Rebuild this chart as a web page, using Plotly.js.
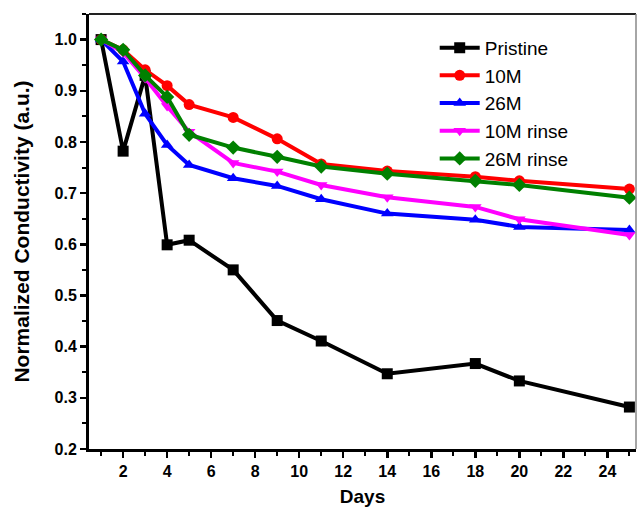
<!DOCTYPE html>
<html>
<head>
<meta charset="utf-8">
<script src="https://cdn.plot.ly/plotly-3.0.1.min.js"></script>
<style>html,body{margin:0;padding:0;background:#fff;}#chart{width:640px;height:507px;}</style>
</head>
<body>
<div id="chart"></div>
<script>
const days = [1, 2, 3, 4, 5, 7, 9, 11, 14, 18, 20, 25];
const seriesNames = ["Pristine", "10M", "26M", "10M rinse", "26M rinse"];
const pristine = [1.0, 0.782, 0.93, 0.599, 0.608, 0.55, 0.451, 0.411, 0.347, 0.367, 0.333, 0.282];
const m10 = [1.0, 0.98, 0.941, 0.91, 0.873, 0.848, 0.806, 0.757, 0.743, 0.732, 0.724, 0.708];
const m26 = [1.0, 0.957, 0.855, 0.794, 0.755, 0.729, 0.714, 0.688, 0.66, 0.648, 0.634, 0.628];
const m10rinse = [1.0, 0.975, 0.925, 0.87, 0.82, 0.759, 0.742, 0.716, 0.692, 0.673, 0.649, 0.618];
const m26rinse = [1.0, 0.98, 0.93, 0.888, 0.814, 0.789, 0.771, 0.752, 0.738, 0.724, 0.716, 0.691];
const xTickVals = [2, 4, 6, 8, 10, 12, 14, 16, 18, 20, 22, 24];
const yTickVals = [0.2, 0.3, 0.4, 0.5, 0.6, 0.7, 0.8, 0.9, 1.0];

const values = [pristine, m10, m26, m10rinse, m26rinse];
const colors = ["#000000", "#ff0000", "#0000ff", "#ff00ff", "#008000"];
const symbols = ["square", "circle", "triangle-up", "triangle-down", "diamond"];

const traces = values.map((v, i) => ({
  x: days, y: v, name: seriesNames[i], type: "scatter", mode: "lines+markers",
  line: {color: colors[i], width: 4},
  marker: {color: colors[i], symbol: symbols[i], size: 11}
}));

const font = {family: "Liberation Sans, Arial, sans-serif", color: "#000"};
const layout = {
  width: 640, height: 507,
  margin: {l: 89, r: 4, t: 14, b: 58},
  paper_bgcolor: "#fff", plot_bgcolor: "#fff",
  showlegend: true,
  legend: {x: 0.632, y: 0.966, xanchor: "left", yanchor: "top", bgcolor: "rgba(0,0,0,0)",
    font: Object.assign({}, font, {size: 19}), tracegroupgap: 0, itemwidth: 40},
  xaxis: {
    range: [0.45, 25.3], tickvals: xTickVals, ticktext: xTickVals.map(String),
    ticks: "outside", ticklen: 6, tickwidth: 2.5, tickcolor: "#000",
    minor: {dtick: 1, tick0: 1, ticks: "outside", ticklen: 4, tickwidth: 2, tickcolor: "#000"},
    showline: true, linewidth: 3, linecolor: "#000", showgrid: false, zeroline: false,
    tickfont: Object.assign({}, font, {size: 16, weight: "bold"}),
    title: {text: "<b>Days</b>", font: Object.assign({}, font, {size: 19}), standoff: 12}
  },
  yaxis: {
    range: [0.2, 1.05], tickvals: yTickVals, ticktext: yTickVals.map(v => v.toFixed(1)),
    ticks: "outside", ticklen: 6, tickwidth: 2.5, tickcolor: "#000",
    minor: {dtick: 0.05, tick0: 0.25, ticks: "outside", ticklen: 4, tickwidth: 2, tickcolor: "#000"},
    showline: true, linewidth: 3, linecolor: "#000", showgrid: false, zeroline: false,
    tickfont: Object.assign({}, font, {size: 16, weight: "bold"}),
    title: {text: "<b>Normalized Conductivity (a.u.)</b>", font: Object.assign({}, font, {size: 21}), standoff: 20}
  },
  shapes: [
    {type: "line", xref: "paper", yref: "paper", x0: 0, x1: 1, y0: 1, y1: 1, line: {color: "#222", width: 2}},
    {type: "line", xref: "paper", yref: "paper", x0: 1, x1: 1, y0: 0, y1: 1, line: {color: "#888", width: 1.5}}
  ]
};
Plotly.newPlot("chart", traces, layout, {displayModeBar: false, staticPlot: true});
</script>
</body>
</html>
